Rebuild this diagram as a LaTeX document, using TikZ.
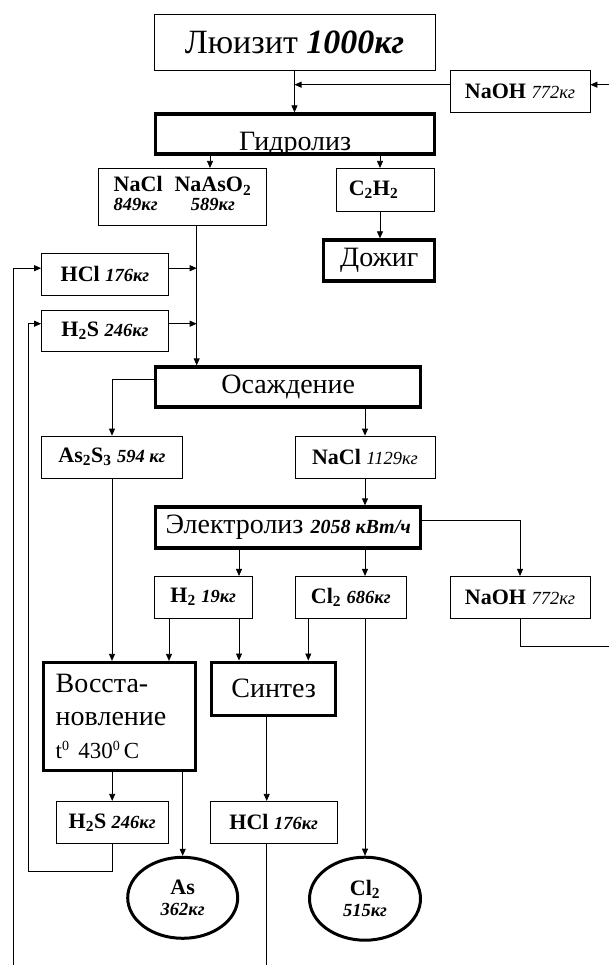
\documentclass[tikz,border=0pt]{standalone}
\usepackage{fontspec}
\setmainfont{Liberation Serif}
\usetikzlibrary{arrows.meta,shapes.geometric}
\newcommand{\mass}[1]{{\fontsize{18.5}{21}\selectfont\itshape #1}}
\newcommand{\massl}[1]{{\fontsize{18.5}{21}\selectfont\mdseries\itshape #1}}
\newcommand{\degz}{\raisebox{8pt}{\fontsize{14}{14}\selectfont 0}}

\begin{document}
\begin{tikzpicture}[x=1pt, y=-1pt, line width=0.8pt,
    >={Triangle[length=7pt,width=6pt]},
    box/.style={draw, line width=0.8pt, inner sep=0pt, font=\fontsize{22}{24}\selectfont\bfseries},
    proc/.style={draw, line width=3.3pt, inner sep=0pt, font=\fontsize{28}{33}\selectfont},
    prod/.style={ellipse, draw, line width=3pt, inner sep=0pt, align=center, font=\fontsize{22}{21}\selectfont\bfseries}]

      \useasboundingbox (0,0) rectangle (608,965);

      % Stages
      \node[box, minimum width=281pt, minimum height=56pt, font=\fontsize{34}{38}\selectfont] (lew) at (294.5,42.5) {Люизит \textbf{\textit{1000кг}}};
      \node[proc, minimum width=279pt, minimum height=40pt, text height=34pt, text depth=0pt] (gidr) at (295.2,134) {Гидролиз};
      \node[proc, minimum width=111pt, minimum height=41pt] (dozhig) at (379.3,260.5) {Дожиг};
      \node[proc, minimum width=265pt, minimum height=40pt] (osazh) at (288.2,387) {Осаждение};
      \node[proc, minimum width=265pt, minimum height=41pt] (elek) at (288.2,527.5) {Электролиз {\fontsize{20}{24}\selectfont\bfseries\itshape 2058 кВт/ч}};
      \node[proc, minimum width=152pt, minimum height=108pt, text width=127pt, align=left] (vosst) at (119.2,716.5) {Восста-\\новление\\{\fontsize{23}{26}\selectfont t\degz\ 430\degz\,C}};
      \node[proc, minimum width=124pt, minimum height=53pt] (sint) at (273.7,688.7) {Синтез};

      % Substances
      \node[box, minimum width=140pt, minimum height=42pt] (naoh1) at (520,91.7) {NaOH \massl{772кг}};
      \node[box, minimum width=168pt, minimum height=56.7pt] (nacl1) at (182.5,196.7) {\begin{tabular}{@{}lc@{}}NaCl & NaAsO\textsubscript{2}\\[-5pt] \mass{849кг} & \mass{589кг}\end{tabular}};
      \node[box, minimum width=98pt, minimum height=42.7pt, text width=74pt, align=left] (c2h2) at (385.8,189.7) {C\textsubscript{2}H\textsubscript{2}};
      \node[box, minimum width=127pt, minimum height=42pt] (hcl1) at (105,274.2) {HCl \mass{176кг}};
      \node[box, minimum width=127pt, minimum height=41.3pt] (h2s1) at (105,330.7) {H\textsubscript{2}S \mass{246кг}};
      \node[box, minimum width=140.6pt, minimum height=42pt] (as2s3) at (112,457) {As\textsubscript{2}S\textsubscript{3} \mass{594 кг}};
      \node[box, minimum width=140pt, minimum height=42pt] (nacl2) at (365,457) {NaCl \massl{1129кг}};
      \node[box, minimum width=98.3pt, minimum height=41.7pt] (h2) at (203.2,597.2) {H\textsubscript{2} \mass{19кг}};
      \node[box, minimum width=111.7pt, minimum height=41.7pt] (cl2) at (350.8,597.2) {Cl\textsubscript{2} \mass{686кг}};
      \node[box, minimum width=140pt, minimum height=41.7pt] (naoh2) at (520,597.2) {NaOH \massl{772кг}};
      \node[box, minimum width=112.3pt, minimum height=42pt] (h2s2) at (112.2,822.3) {H\textsubscript{2}S \mass{246кг}};
      \node[box, minimum width=127.3pt, minimum height=42pt] (hcl2) at (273.7,822.3) {HCl \mass{176кг}};

      % Products
      \node[prod, minimum width=110pt, minimum height=81pt] (asp) at (182.7,897.8) {As\\\mass{362кг}};
      \node[prod, minimum width=111pt, minimum height=83pt] (cl2p) at (365,898.7) {Cl\textsubscript{2}\\\mass{515кг}};

      % Junctions
      \coordinate (trunk) at (196.7,0);
      \coordinate (naoh1in) at ([yshift=7pt]naoh1.east);
      \coordinate (naoh1out) at ([yshift=7pt]naoh1.west);
      \coordinate (hcl1in) at ([yshift=6pt]hcl1.west);
      \coordinate (hcl1out) at ([yshift=6pt]hcl1.east);
      \coordinate (h2s1in) at ([yshift=7pt]h2s1.west);
      \coordinate (h2s1out) at ([yshift=7pt]h2s1.east);
      \coordinate (osazhout) at ([yshift=8pt]osazh.west);
      \coordinate (elekout) at ([yshift=7pt]elek.east);
      \coordinate (hclret) at (13.3,965);
      \coordinate (hclsrc) at (266.7,965);

      % Flows
      \draw[->] (lew) -- (lew |- gidr.north);
      \draw[->] (naoh1out) -- (naoh1out -| lew);
      \draw[->] (210,0 |- gidr.south) -- (210,0 |- nacl1.north);
      \draw[->] (380,0 |- gidr.south) -- (380,0 |- c2h2.north);
      \draw[->] (380,0 |- c2h2.south) -- (380,0 |- dozhig.north);
      \draw[->] (trunk |- nacl1.south) -- (trunk |- osazh.north);
      \draw[->] (hcl1out) -- (hcl1out -| trunk);
      \draw[->] (h2s1out) -- (h2s1out -| trunk);
      \draw[->] (osazhout) -| (as2s3.north);
      \draw[->] (nacl2 |- osazh.south) -- (nacl2.north);
      \draw[->] (nacl2.south) -- (nacl2 |- elek.north);
      \draw[->] (elekout) -| (naoh2.north);
      \draw[->] (239,0 |- elek.south) -- (239,0 |- h2.north);
      \draw[->] (nacl2 |- elek.south) -- (nacl2 |- cl2.north);
      \draw[->] (as2s3.south) -- (as2s3 |- vosst.north);
      \draw[->] (169,0 |- h2.south) -- (169,0 |- vosst.north);
      \draw[->] (239,0 |- h2.south) -- (239,0 |- sint.north);
      \draw[->] (308.3,0 |- cl2.south) -- (308.3,0 |- sint.north);
      \draw[->] (cl2p |- cl2.south) -- (cl2p.north);
      \draw[->] (h2s2 |- vosst.south) -- (h2s2.north);
      \draw[->] (asp |- vosst.south) -- (asp.north);
      \draw[->] (hclsrc |- sint.south) -- (hclsrc |- hcl2.north);

      % Recycle lines
      \draw[->] (h2s2.south) |- (28.3,871.7) |- (h2s1in);
      \draw[->] (hclret) |- (hcl1in);
      \draw (hclsrc |- hcl2.south) -- (hclsrc);
      \draw[->] (naoh2.south) |- (610,646) |- (naoh1in);
    \end{tikzpicture}
\end{document}
